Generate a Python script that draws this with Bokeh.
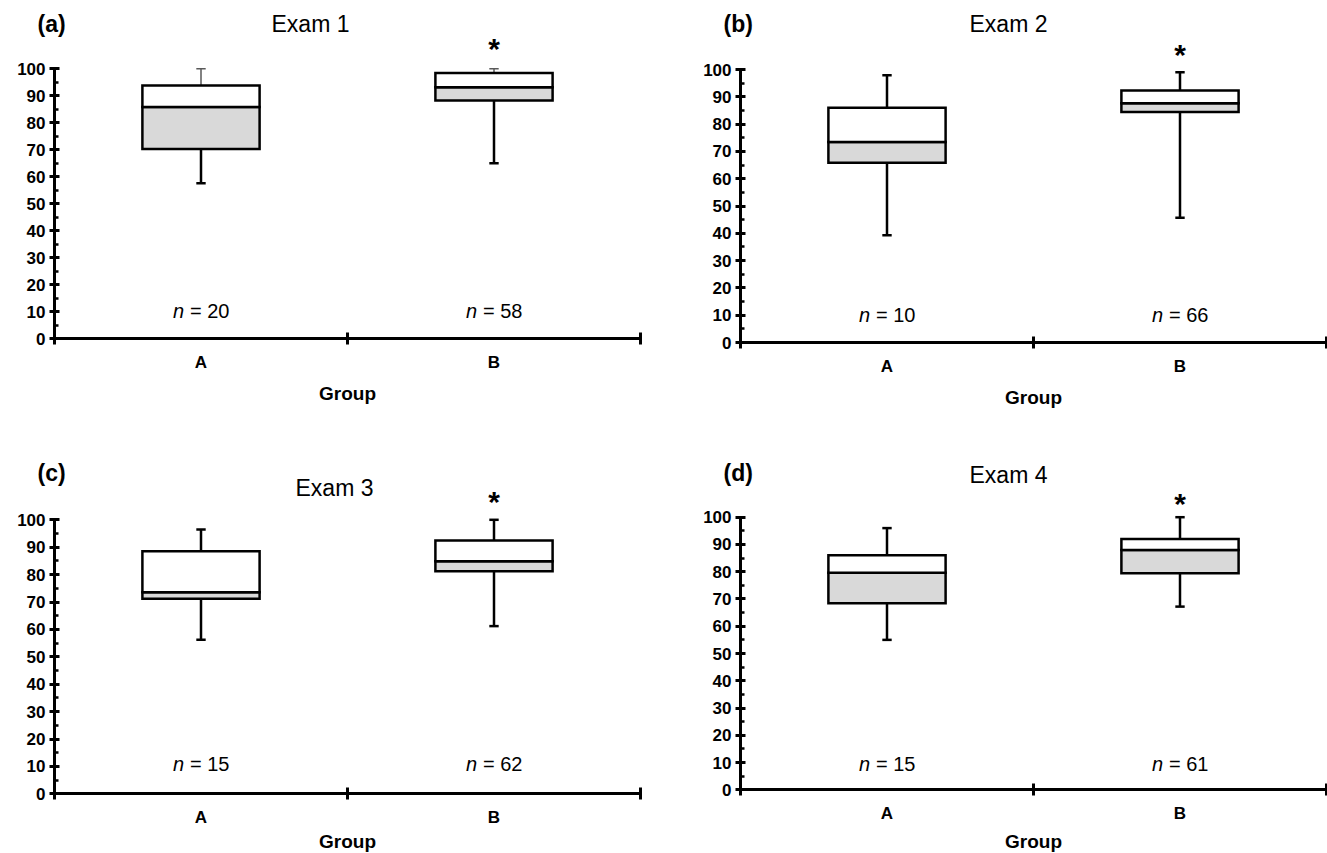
from bokeh.plotting import figure
from bokeh.models import Range1d, FixedTicker, Label
from bokeh.layouts import column, row
from bokeh.embed import file_html
from bokeh.resources import INLINE

# ---------------- data ----------------
exam_titles = ["Exam 1", "Exam 2", "Exam 3", "Exam 4"]
panel_tags = ["(a)", "(b)", "(c)", "(d)"]
groups = ["A", "B"]
group_x = [0.5, 1.5]
whisker_low = [[57.6, 65.0], [39.3, 45.7], [56.2, 61.2], [55.0, 67.2]]
quartile_1 = [[70.3, 88.2], [65.8, 84.4], [71.2, 81.2], [68.4, 79.4]]
medians = [[85.8, 93.2], [73.4, 87.6], [73.6, 84.9], [79.6, 88.0]]
quartile_3 = [[93.8, 98.4], [86.0, 92.3], [88.5, 92.4], [86.0, 92.0]]
whisker_high = [[100.0, 100.0], [97.9, 99.0], [96.5, 100.0], [96.0, 100.0]]
n_students = [[20, 58], [10, 66], [15, 62], [15, 61]]
significant = [[False, True], [False, True], [False, True], [False, True]]
y_ticks = list(range(0, 101, 10))
y_minor = list(range(5, 100, 10))
x_bounds_ticks = [0, 1, 2]

# ---------------- layout (pixels) ----------------
FONT = "Liberation Sans"
PPU_X = 293.0
geoms = [
    dict(w=660, h=412, left=54, y0=338.0, y100=68.3),
    dict(w=667, h=412, left=80, y0=342.0, y100=69.0),
    dict(w=660, h=441, left=54, y0=381.3, y100=107.3),
    dict(w=667, h=441, left=80, y0=377.3, y100=104.7),
]
# tag_left, tag_y, title_cx, title_y, star_y, n_y (figure pixels)
text_pos = [
    (37, 23, 310, 23, 48, 310),
    (63, 23, 348, 23, 54, 314),
    (37, 60, 334, 75, 89, 351),
    (63, 60, 348, 62, 91, 351),
]
group_label_standoff = [8, 8, 1, 5]
upper_whisker_color = ["#595959", "black", "black", "black"]
upper_whisker_width = [1.5, 2.5, 2.5, 2.5]
CAP_HALF = 0.016
BOX_W = 0.4


def make_panel(i):
    g = geoms[i]
    ppu = (g["y0"] - g["y100"]) / 100.0
    x_start = -g["left"] / PPU_X
    x_end = (g["w"] - g["left"]) / PPU_X
    y_start = -(g["h"] - g["y0"]) / ppu
    y_end = g["y0"] / ppu

    def to_x(px):
        return (px - g["left"]) / PPU_X

    def to_y(py):
        return (g["y0"] - py) / ppu

    p = figure(width=g["w"], height=g["h"], x_range=Range1d(x_start, x_end),
               y_range=Range1d(y_start, y_end), output_backend="svg",
               toolbar_location=None, min_border_left=0, min_border_right=0,
               min_border_top=0, min_border_bottom=0)
    p.outline_line_color = None
    p.grid.visible = False

    lo, q1, md, q3, hi = (whisker_low[i], quartile_1[i], medians[i],
                          quartile_3[i], whisker_high[i])
    xs = group_x
    # whiskers
    p.segment(x0=xs, y0=q1, x1=xs, y1=lo, line_color="black", line_width=2.5)
    p.segment(x0=[x - CAP_HALF for x in xs], y0=lo, x1=[x + CAP_HALF for x in xs],
              y1=lo, line_color="black", line_width=2.5)
    p.segment(x0=xs, y0=q3, x1=xs, y1=hi, line_color=upper_whisker_color[i],
              line_width=upper_whisker_width[i])
    p.segment(x0=[x - CAP_HALF for x in xs], y0=hi, x1=[x + CAP_HALF for x in xs],
              y1=hi, line_color=upper_whisker_color[i],
              line_width=upper_whisker_width[i])
    # boxes
    p.vbar(x=xs, width=BOX_W, bottom=q1, top=md, fill_color="#d9d9d9",
           line_color="black", line_width=2.5, line_join="miter")
    p.vbar(x=xs, width=BOX_W, bottom=md, top=q3, fill_color="white",
           line_color="black", line_width=2.5, line_join="miter")

    tag_left, tag_y, title_cx, title_y, star_y, n_y = text_pos[i]
    p.add_layout(Label(x=to_x(tag_left), y=to_y(tag_y), text=panel_tags[i],
                       text_align="left", text_baseline="middle",
                       text_font=FONT, text_font_size="23px",
                       text_font_style="bold", text_color="black"))
    p.add_layout(Label(x=to_x(title_cx), y=to_y(title_y), text=exam_titles[i],
                       text_align="center", text_baseline="middle",
                       text_font=FONT, text_font_size="23px", text_color="black"))
    for j, gx in enumerate(xs):
        if significant[i][j]:
            p.add_layout(Label(x=gx, y=to_y(star_y), text="*",
                               text_align="center", text_baseline="middle",
                               text_font=FONT, text_font_size="30px",
                               text_font_style="bold", text_color="black"))
        p.add_layout(Label(x=gx - 17.0 / PPU_X, y=to_y(n_y), text="n",
                           text_align="right", text_baseline="middle",
                           text_font=FONT, text_font_size="20px",
                           text_font_style="italic", text_color="black"))
        p.add_layout(Label(x=gx - 11.0 / PPU_X, y=to_y(n_y),
                           text="= %d" % n_students[i][j],
                           text_align="left", text_baseline="middle",
                           text_font=FONT, text_font_size="20px",
                           text_color="black"))

    # y axis (drawn at x = 0 inside the frame)
    ya = p.yaxis[0]
    ya.fixed_location = 0
    ya.ticker = FixedTicker(ticks=y_ticks, minor_ticks=y_minor)
    ya.bounds = (0, 100)
    ya.axis_line_width = 3
    ya.axis_line_color = "black"
    ya.major_tick_in = 5
    ya.major_tick_out = 5
    ya.major_tick_line_width = 3
    ya.minor_tick_in = 4
    ya.minor_tick_out = 0
    ya.minor_tick_line_width = 2.5
    ya.major_label_standoff = 4
    ya.major_label_text_font = FONT
    ya.major_label_text_font_size = "17px"
    ya.major_label_text_font_style = "bold"
    ya.major_label_text_color = "black"

    # x axis (drawn at y = 0 inside the frame)
    xa = p.xaxis[0]
    xa.fixed_location = 0
    xa.ticker = FixedTicker(ticks=group_x, minor_ticks=x_bounds_ticks)
    xa.major_label_overrides = {group_x[k]: groups[k] for k in range(len(groups))}
    xa.bounds = (0, 2)
    xa.axis_line_width = 3
    xa.axis_line_color = "black"
    xa.major_tick_in = 0
    xa.major_tick_out = 0
    xa.minor_tick_in = 6
    xa.minor_tick_out = 6
    xa.minor_tick_line_width = 3
    xa.major_label_standoff = 8
    xa.major_label_text_font = FONT
    xa.major_label_text_font_size = "17px"
    xa.major_label_text_font_style = "bold"
    xa.major_label_text_color = "black"
    xa.axis_label = "Group"
    xa.axis_label_standoff = group_label_standoff[i]
    xa.axis_label_text_font = FONT
    xa.axis_label_text_font_size = "19px"
    xa.axis_label_text_font_style = "bold"
    xa.axis_label_text_color = "black"
    return p


panels = [make_panel(i) for i in range(4)]
layout = column(row(panels[0], panels[1]), row(panels[2], panels[3]))

with open("out.html", "w") as f:
    f.write(file_html(layout, INLINE))
